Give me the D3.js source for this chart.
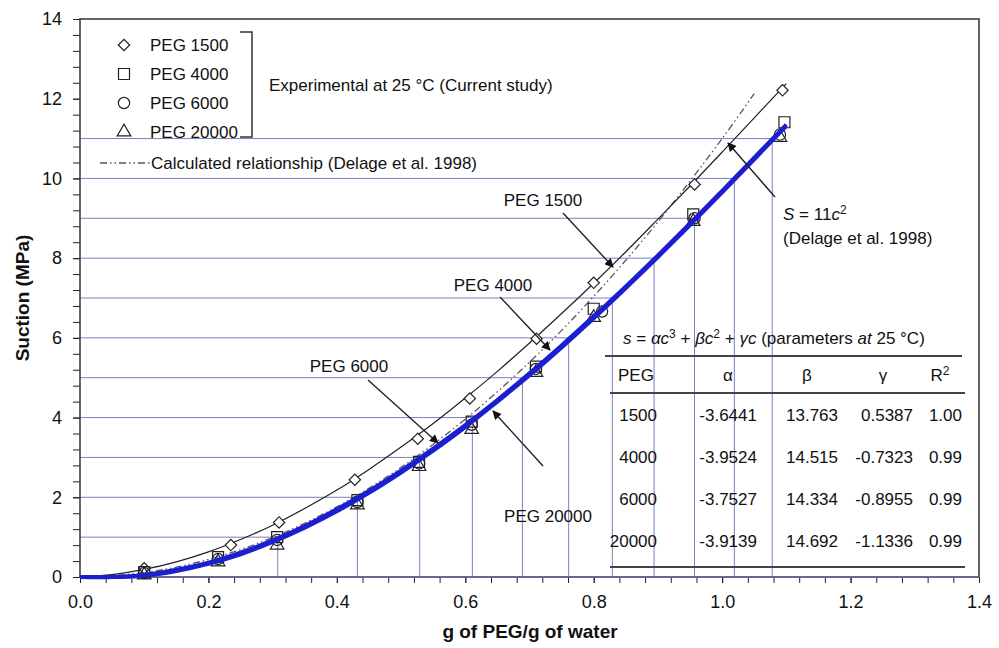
<!DOCTYPE html>
<html>
<head>
<meta charset="utf-8">
<script src="https://cdn.jsdelivr.net/npm/d3@7"></script>
<style>
  body { margin: 0; background: #fff; }
  text { font-family: "Liberation Sans", Arial, sans-serif; fill: #111; }
</style>
</head>
<body>
<svg id="chart" width="999" height="648"></svg>
<script>
// ---- data ----
const seriesNames = ["PEG 1500", "PEG 4000", "PEG 6000", "PEG 20000"];

const c1500 = [0.10, 0.235, 0.31, 0.428, 0.526, 0.607, 0.711, 0.80, 0.957, 1.094];
const s1500 = [0.22, 0.80, 1.37, 2.44, 3.47, 4.48, 5.98, 7.38, 9.85, 12.21];
const c4000 = [0.10, 0.215, 0.307, 0.432, 0.528, 0.61, 0.71, 0.80, 0.955, 1.097];
const s4000 = [0.12, 0.50, 1.00, 1.93, 2.89, 3.90, 5.28, 6.73, 9.10, 11.41];
const c6000 = [0.10, 0.215, 0.307, 0.432, 0.528, 0.61, 0.71, 0.813, 0.957, 1.09];
const s6000 = [0.10, 0.45, 0.93, 1.88, 2.85, 3.82, 5.22, 6.66, 9.00, 11.10];
const c20000 = [0.10, 0.215, 0.307, 0.432, 0.528, 0.61, 0.71, 0.80, 0.955, 1.09];
const s20000 = [0.05, 0.38, 0.80, 1.81, 2.77, 3.70, 5.13, 6.51, 8.92, 11.03];

// fitted curves
const fitC = [0, 0.05, 0.1, 0.15, 0.2, 0.25, 0.3, 0.35, 0.4, 0.45, 0.5, 0.55, 0.6, 0.65, 0.7, 0.75, 0.8, 0.85, 0.9, 0.95, 1.0, 1.05, 1.1];
const fit1500 = [0, 0.06, 0.19, 0.38, 0.63, 0.94, 1.30, 1.72, 2.18, 2.70, 3.26, 3.85, 4.49, 5.16, 5.87, 6.61, 7.37, 8.16, 8.98, 9.81, 10.66, 11.52, 12.38];
const fit6000 = [0, 0, 0.05, 0.18, 0.36, 0.61, 0.92, 1.28, 1.70, 2.16, 2.67, 3.22, 3.81, 4.44, 5.11, 5.81, 6.54, 7.29, 8.07, 8.87, 9.69, 10.52, 11.35];
const fit20000 = [0, 0, 0.03, 0.15, 0.33, 0.57, 0.88, 1.24, 1.65, 2.11, 2.62, 3.17, 3.76, 4.40, 5.06, 5.76, 6.49, 7.25, 8.03, 8.83, 9.65, 10.48, 11.32];
const delageC = [0, 0.1, 0.2, 0.3, 0.4, 0.5, 0.6, 0.7, 0.8, 0.9, 1.0, 1.05];
const delageS = [0, 0.11, 0.44, 0.99, 1.76, 2.75, 3.96, 5.39, 7.04, 8.91, 11.0, 12.13];

// stepped reference lines: suction level and concentration where it meets the curve
const gridS = [1, 2, 3, 4, 5, 6, 7, 8, 9, 10, 11];
const gridC = [0.308, 0.432, 0.529, 0.611, 0.689, 0.761, 0.829, 0.894, 0.957, 1.019, 1.078];

const xTicks = [0, 0.2, 0.4, 0.6, 0.8, 1.0, 1.2, 1.4];
const yTicks = [0, 2, 4, 6, 8, 10, 12, 14];

// table of parameters
const tablePEG = ["1500", "4000", "6000", "20000"];
const tableAlpha = ["-3.6441", "-3.9524", "-3.7527", "-3.9139"];
const tableBeta = ["13.763", "14.515", "14.334", "14.692"];
const tableGamma = ["0.5387", "-0.7323", "-0.8955", "-1.1336"];
const tableR2 = ["1.00", "0.99", "0.99", "0.99"];

// ---- layout ----
const svg = d3.select("#chart");
const x = d3.scaleLinear().domain([0, 1.4]).range([80, 979]);
const y = d3.scaleLinear().domain([0, 14]).range([577, 19]);
const gridColor = "#7d7dbb";
const blue = "#1c1fd0";

// stepped grid
const grid = svg.append("g");
gridS.forEach((s, i) => {
  grid.append("line")
    .attr("x1", x(0)).attr("x2", x(gridC[i]))
    .attr("y1", y(s)).attr("y2", y(s))
    .attr("stroke", gridColor).attr("stroke-width", 1);
  grid.append("line")
    .attr("x1", x(gridC[i])).attr("x2", x(gridC[i]))
    .attr("y1", y(0)).attr("y2", y(s))
    .attr("stroke", gridColor).attr("stroke-width", 1);
});

// axes
const xMinor = d3.range(0, 1.4001, 0.04);
const yMinor = d3.range(0, 14.001, 0.4);

function styleAxis(g) {
  g.select(".domain").remove();
  g.selectAll("line").attr("stroke", "#222");
  g.selectAll("text")
    .attr("font-family", "Liberation Sans, Arial, sans-serif")
    .attr("font-size", 18)
    .attr("fill", "#111");
}

svg.append("g")
  .attr("transform", `translate(0,${y(0)})`)
  .call(d3.axisBottom(x).tickValues(xMinor).tickSize(6).tickFormat(""))
  .call(styleAxis);
svg.append("g")
  .attr("transform", `translate(0,${y(0)})`)
  .call(d3.axisBottom(x).tickValues(xTicks).tickSize(6).tickPadding(12).tickFormat(d3.format(".1f")))
  .call(styleAxis);
svg.append("g")
  .attr("transform", `translate(${x(0)},0)`)
  .call(d3.axisLeft(y).tickValues(yMinor).tickSize(7).tickFormat(""))
  .call(styleAxis);
svg.append("g")
  .attr("transform", `translate(${x(0)},0)`)
  .call(d3.axisLeft(y).tickValues(yTicks).tickSize(7).tickPadding(11).tickFormat(d3.format("d")))
  .call(styleAxis);

// frame
svg.append("rect")
  .attr("x", x(0)).attr("y", y(14))
  .attr("width", x(1.4) - x(0)).attr("height", y(0) - y(14))
  .attr("fill", "none").attr("stroke", "#333").attr("stroke-width", 1.5);
svg.append("line")
  .attr("x1", x(0)).attr("x2", x(1.4)).attr("y1", y(0)).attr("y2", y(0))
  .attr("stroke", "#6a6aa8").attr("stroke-width", 1.5);

// axis titles
svg.append("text")
  .attr("x", 530).attr("y", 638)
  .attr("text-anchor", "middle").attr("font-weight", "bold").attr("font-size", 19)
  .text("g of PEG/g of water");
svg.append("text")
  .attr("transform", "translate(29,298) rotate(-90)")
  .attr("text-anchor", "middle").attr("font-weight", "bold").attr("font-size", 19)
  .text("Suction (MPa)");

// curves
const line = (cs, ss) => d3.line()
  .x((d, i) => x(cs[i])).y(d => y(d))
  .curve(d3.curveCatmullRom)(ss);

svg.append("path")
  .attr("d", line(delageC, delageS))
  .attr("fill", "none").attr("stroke", "#555").attr("stroke-width", 1.3)
  .attr("stroke-dasharray", "7,3,1.5,3,1.5,3");
svg.append("path")
  .attr("d", line(fitC, fit1500))
  .attr("fill", "none").attr("stroke", "#222").attr("stroke-width", 1.2);

// markers
const sym = {
  "PEG 1500": d3.symbol().type(d3.symbolSquare).size(64),
  "PEG 4000": d3.symbol().type(d3.symbolSquare).size(121),
  "PEG 6000": d3.symbol().type(d3.symbolCircle).size(100),
  "PEG 20000": d3.symbol().type(d3.symbolTriangle).size(80)
};
const rot = { "PEG 1500": 45, "PEG 4000": 0, "PEG 6000": 0, "PEG 20000": 0 };
const pts = [[c1500, s1500], [c4000, s4000], [c6000, s6000], [c20000, s20000]];
pts.forEach(([cs, ss], k) => {
  const name = seriesNames[k];
  svg.append("g").selectAll("path")
    .data(ss)
    .join("path")
    .attr("d", sym[name])
    .attr("transform", (d, i) => `translate(${x(cs[i])},${y(d)}) rotate(${rot[name]})`)
    .attr("fill", k === 0 ? "#fff" : "none")
    .attr("stroke", "#222").attr("stroke-width", 1.2);
});

// blue fitted curves (PEG 6000 / 20000 overlap into one thick band)
[fit6000, fit20000].forEach(ss => {
  svg.append("path")
    .attr("d", line(fitC, ss))
    .attr("fill", "none").attr("stroke", blue).attr("stroke-width", 4);
});

// legend
const lg = svg.append("g");
seriesNames.forEach((name, k) => {
  const yy = 45 + k * 29;
  lg.append("path")
    .attr("d", sym[name])
    .attr("transform", `translate(124,${yy}) rotate(${rot[name]})`)
    .attr("fill", "none").attr("stroke", "#222").attr("stroke-width", 1.2);
  lg.append("text").attr("x", 150).attr("y", yy + 6).attr("font-size", 17).text(name);
});
lg.append("path")
  .attr("d", "M240,32H252V137H240")
  .attr("fill", "none").attr("stroke", "#333").attr("stroke-width", 1.5);
lg.append("text").attr("x", 269).attr("y", 91).attr("font-size", 17)
  .text("Experimental at 25 °C (Current study)");
lg.append("line")
  .attr("x1", 100).attr("x2", 150).attr("y1", 163).attr("y2", 163)
  .attr("stroke", "#555").attr("stroke-width", 1.3)
  .attr("stroke-dasharray", "7,3,1.5,3,1.5,3");
lg.append("text").attr("x", 151).attr("y", 169).attr("font-size", 17)
  .text("Calculated relationship (Delage et al. 1998)");

// annotations with arrows
svg.append("defs").append("marker")
  .attr("id", "head").attr("viewBox", "0 0 10 10")
  .attr("refX", 9).attr("refY", 5)
  .attr("markerWidth", 9).attr("markerHeight", 9)
  .attr("markerUnits", "userSpaceOnUse")
  .attr("orient", "auto")
  .append("path").attr("d", "M0,0L10,5L0,10Z").attr("fill", "#111");

const notes = [
  { label: "PEG 1500", tx: 543, ty: 206, x1: 563, y1: 213, x2: 613, y2: 267 },
  { label: "PEG 4000", tx: 493, ty: 291, x1: 500, y1: 297, x2: 550, y2: 350 },
  { label: "PEG 6000", tx: 349, ty: 372, x1: 368, y1: 380, x2: 438, y2: 443 },
  { label: "PEG 20000", tx: 548, ty: 522, x1: 543, y1: 466, x2: 493, y2: 411 }
];
notes.forEach(n => {
  svg.append("text").attr("x", n.tx).attr("y", n.ty)
    .attr("text-anchor", "middle").attr("font-size", 17).text(n.label);
  svg.append("line")
    .attr("x1", n.x1).attr("y1", n.y1).attr("x2", n.x2).attr("y2", n.y2)
    .attr("stroke", "#222").attr("stroke-width", 1.4)
    .attr("marker-end", "url(#head)");
});
svg.append("line")
  .attr("x1", 775).attr("y1", 197).attr("x2", 728).attr("y2", 143)
  .attr("stroke", "#222").attr("stroke-width", 1.4)
  .attr("marker-end", "url(#head)");
const sNote = svg.append("text").attr("x", 783).attr("y", 220).attr("font-size", 17);
sNote.append("tspan").attr("font-style", "italic").text("S");
sNote.append("tspan").text(" = 11");
sNote.append("tspan").attr("font-style", "italic").text("c");
sNote.append("tspan").attr("dy", -6).attr("font-size", 12).text("2");
svg.append("text").attr("x", 783).attr("y", 244).attr("font-size", 17)
  .text("(Delage et al. 1998)");

// parameter table
const tb = svg.append("g");
const title = tb.append("text").attr("x", 623).attr("y", 344).attr("font-size", 17);
const parts = [
  ["s", true], [" = ", false], ["α", true], ["c", true], ["3", false, "sup"], [" + ", false],
  ["β", true], ["c", true], ["2", false, "sup"], [" + ", false], ["γ", true], ["c", true],
  [" (parameters ", false], ["at", true], [" 25 °C)", false]
];
let raised = false;
parts.forEach(([t, it, sup]) => {
  const sp = title.append("tspan").text(t);
  if (it) sp.attr("font-style", "italic");
  if (sup) { sp.attr("dy", -6).attr("font-size", 12); raised = true; }
  else if (raised) { sp.attr("dy", 6); raised = false; }
});
[[605, 962, 356], [610, 965, 393], [610, 965, 567]].forEach(([a, b, yy]) => {
  tb.append("line").attr("x1", a).attr("x2", b).attr("y1", yy).attr("y2", yy)
    .attr("stroke", "#444").attr("stroke-width", 2);
});
const colRight = [657, 757, 838, 913, 962];
tb.append("text").attr("x", 618).attr("y", 381).attr("font-size", 17).text("PEG");
tb.append("text").attr("x", 728).attr("y", 381).attr("font-size", 17).attr("text-anchor", "middle").text("α");
tb.append("text").attr("x", 807).attr("y", 381).attr("font-size", 17).attr("text-anchor", "middle").text("β");
tb.append("text").attr("x", 883).attr("y", 381).attr("font-size", 17).attr("text-anchor", "middle").text("γ");
const r2 = tb.append("text").attr("x", 940).attr("y", 381).attr("font-size", 17).attr("text-anchor", "middle");
r2.append("tspan").text("R");
r2.append("tspan").attr("dy", -6).attr("font-size", 12).text("2");
const cols = [tablePEG, tableAlpha, tableBeta, tableGamma, tableR2];
tablePEG.forEach((p, r) => {
  const yy = 421 + r * 42;
  cols.forEach((col, j) => {
    tb.append("text").attr("x", colRight[j]).attr("y", yy)
      .attr("text-anchor", "end").attr("font-size", 17).text(col[r]);
  });
});
</script>
</body>
</html>
